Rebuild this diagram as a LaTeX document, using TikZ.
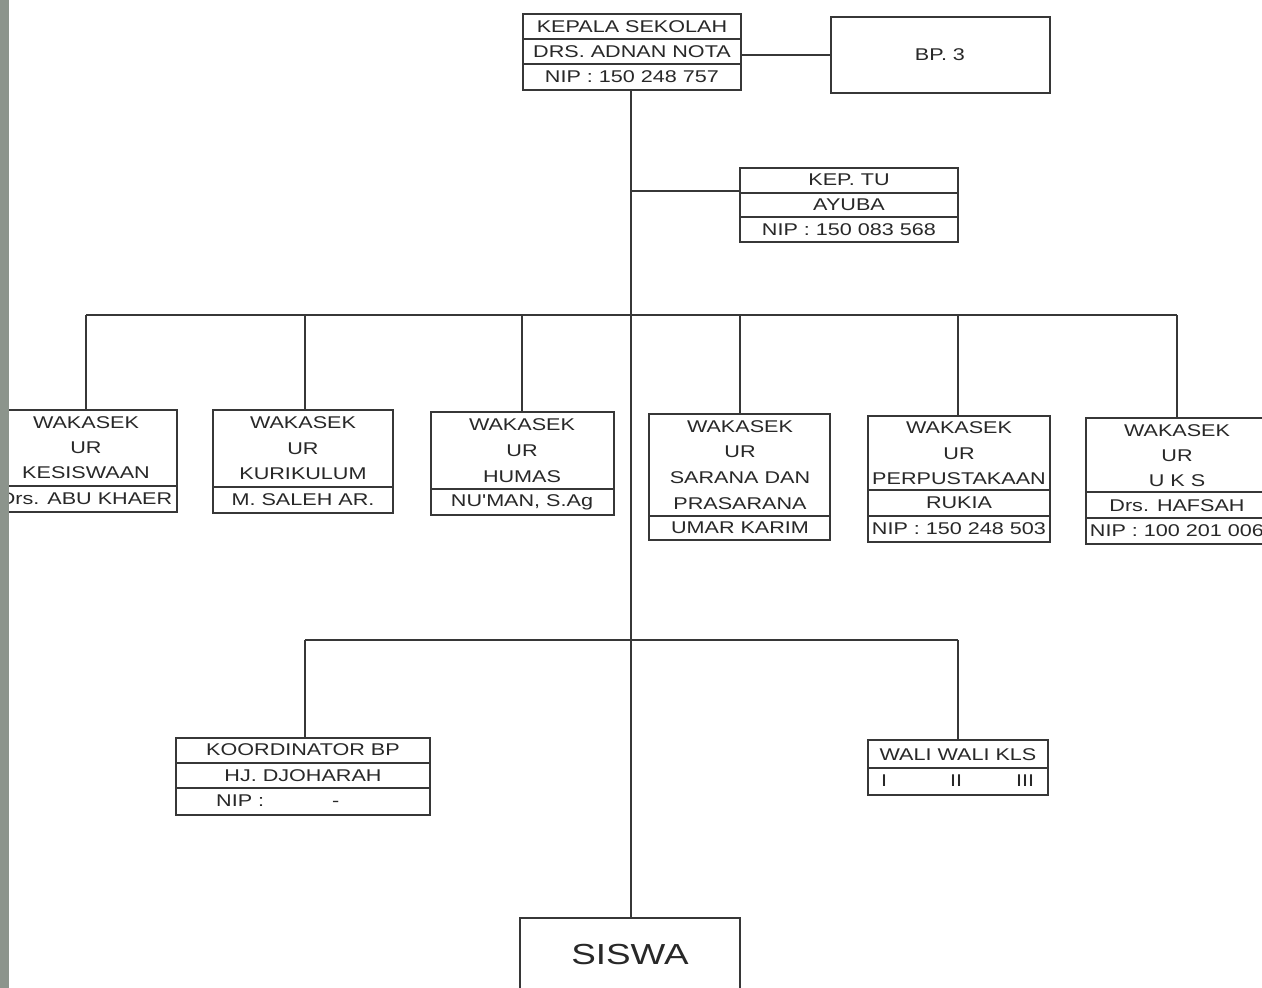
\documentclass[tikz,border=0pt]{standalone}
\usepackage{fontspec}
\newfontfamily\chartfont{Liberation Sans}[FakeStretch=1.27]
\usetikzlibrary{fit}
\definecolor{linec}{RGB}{55,55,55}
\definecolor{textc}{RGB}{40,40,40}
\definecolor{stripc}{RGB}{140,148,140}
\tikzset{
  box/.style={draw=linec, line width=1.3pt, inner sep=0pt},
  conn/.style={draw=linec, line width=1.3pt},
  lbl/.style={font=\chartfont\fontsize{17}{20}\selectfont, text=textc, inner sep=0pt},
  big/.style={font=\chartfont\fontsize{29}{34}\selectfont, text=textc, inner sep=0pt}
}
\begin{document}
\begin{tikzpicture}[x=1pt,y=-1pt]
\fill[white] (0,0) rectangle (1262,988);
\clip (0,0) rectangle (1262,988);

% ---- Kepala Sekolah ----
\node[box, fit={(523,14) (741,90)}] (kepala) {};
\draw[conn] (523,39) -- (741,39);
\draw[conn] (523,64) -- (741,64);
\node[lbl] (k1) at (632,27) {KEPALA SEKOLAH};
\node[lbl] (k2) at (632,52) {DRS. ADNAN NOTA};
\node[lbl] (k3) at (632,77) {NIP : 150 248 757};

% ---- BP 3 ----
\node[box, fit={(831,17) (1050,93)}] (bp) {};
\node[lbl] (bpt) at (940,55) {BP. 3};
\draw[conn] (kepala.east |- bp.west) -- (bp.west);

% ---- Kep TU ----
\node[box, fit={(740,168) (958,242)}] (keptu) {};
\draw[conn] (740,193) -- (958,193);
\draw[conn] (740,217) -- (958,217);
\node[lbl] (t1) at (849,180) {KEP. TU};
\node[lbl] (t2) at (849,205) {AYUBA};
\node[lbl] (t3) at (849,230) {NIP : 150 083 568};

% ---- SISWA ----
\node[box, fit={(520,918) (740,1000)}] (siswa) {};
\node[big] (st) at (630,955) {SISWA};

% ---- main vertical line ----
\coordinate (tu) at (631,191);
\coordinate (bus) at (631,315);
\coordinate (lbus) at (631,640);
\draw[conn] (kepala.south -| tu) -- (tu |- siswa.north);
\draw[conn] (tu) -- (tu -| keptu.west);

% ---- Wakasek boxes ----
\node[box, fit={(-5,410) (177,512)}] (w1) {};
\draw[conn] (-5,486) -- (177,486);
\node[lbl] at (86,423) {WAKASEK};
\node[lbl] at (86,448) {UR};
\node[lbl] at (86,473) {KESISWAAN};
\node[lbl] at (86,499) {Drs. ABU KHAER};

\node[box, fit={(213,410) (393,513)}] (w2) {};
\draw[conn] (213,487) -- (393,487);
\node[lbl] at (303,423) {WAKASEK};
\node[lbl] at (303,449) {UR};
\node[lbl] at (303,474) {KURIKULUM};
\node[lbl] at (303,500) {M. SALEH AR.};

\node[box, fit={(431,412) (614,515)}] (w3) {};
\draw[conn] (431,489) -- (614,489);
\node[lbl] at (522,425) {WAKASEK};
\node[lbl] at (522,451) {UR};
\node[lbl] at (522,477) {HUMAS};
\node[lbl] at (522,502) {NU'MAN, S.Ag};

\node[box, fit={(649,414) (830,540)}] (w4) {};
\draw[conn] (649,516) -- (830,516);
\node[lbl] at (740,427) {WAKASEK};
\node[lbl] at (740,452) {UR};
\node[lbl] at (740,478) {SARANA DAN};
\node[lbl] at (740,504) {PRASARANA};
\node[lbl] at (740,528) {UMAR KARIM};

\node[box, fit={(868,416) (1050,542)}] (w5) {};
\draw[conn] (868,490) -- (1050,490);
\draw[conn] (868,516) -- (1050,516);
\node[lbl] at (959,428) {WAKASEK};
\node[lbl] at (959,454) {UR};
\node[lbl] at (959,479) {PERPUSTAKAAN};
\node[lbl] at (959,503) {RUKIA};
\node[lbl] at (959,529) {NIP : 150 248 503};

\node[box, fit={(1086,418) (1268,544)}] (w6) {};
\draw[conn] (1086,492) -- (1268,492);
\draw[conn] (1086,518) -- (1268,518);
\node[lbl] at (1177,431) {WAKASEK};
\node[lbl] at (1177,456) {UR};
\node[lbl] at (1177,481) {U K S};
\node[lbl] at (1177,506) {Drs. HAFSAH};
\node[lbl] at (1177,531) {NIP : 100 201 006};

% ---- upper bus ----
\coordinate (d1) at (86,315);
\coordinate (d2) at (305,315);
\coordinate (d3) at (522,315);
\coordinate (d4) at (740,315);
\coordinate (d5) at (958,315);
\coordinate (d6) at (1177,315);
\draw[conn] (d1) -- (d6);
\draw[conn] (d1) -- (d1 |- w1.north);
\draw[conn] (d2) -- (d2 |- w2.north);
\draw[conn] (d3) -- (d3 |- w3.north);
\draw[conn] (d4) -- (d4 |- w4.north);
\draw[conn] (d5) -- (d5 |- w5.north);
\draw[conn] (d6) -- (d6 |- w6.north);

% ---- Koordinator BP ----
\node[box, fit={(176,738) (430,815)}] (koor) {};
\draw[conn] (176,763) -- (430,763);
\draw[conn] (176,788) -- (430,788);
\node[lbl] at (303,750) {KOORDINATOR BP};
\node[lbl] at (303,776) {HJ. DJOHARAH};
\node[lbl, anchor=west] at (216,801) {NIP :\hspace{68pt}-};

% ---- Wali kelas ----
\node[box, fit={(868,740) (1048,795)}] (wali) {};
\draw[conn] (868,768) -- (1048,768);
\node[lbl] at (958,755) {WALI WALI KLS};
\node[lbl] at (884,781) {I};
\node[lbl] at (956,781) {II};
\node[lbl] at (1025,781) {III};

% ---- lower bus ----
\coordinate (l1) at (305,640);
\coordinate (l2) at (958,640);
\draw[conn] (l1) -- (l2);
\draw[conn] (l1) -- (l1 |- koor.north);
\draw[conn] (l2) -- (l2 |- wali.north);

% ---- left strip ----
\fill[stripc] (0,0) rectangle (9,988);
\end{tikzpicture}
\end{document}
